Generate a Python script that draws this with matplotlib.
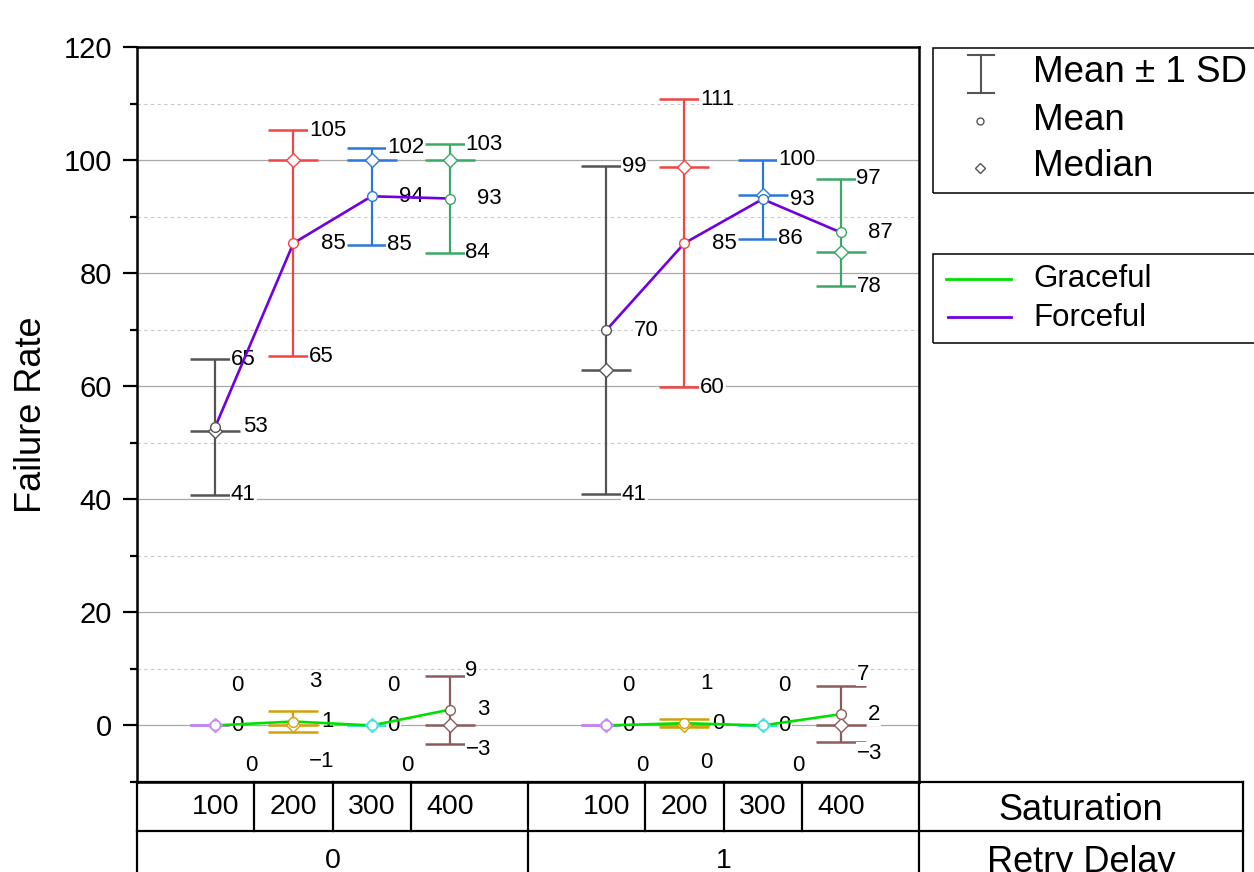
import numpy as np
import matplotlib
matplotlib.use("Agg")
import matplotlib.pyplot as plt
from matplotlib.lines import Line2D
from matplotlib.patches import Rectangle
from matplotlib.transforms import blended_transform_factory

plt.rcParams['font.family'] = ['Liberation Sans', 'DejaVu Sans']

# ---- data ----
saturation = [100, 200, 300, 400]
retry_delay = [0, 1]

forceful_mean = [[52.8, 85.3, 93.6, 93.2], [69.9, 85.3, 93.1, 87.2]]
forceful_sd = [[12.0, 20.0, 8.6, 9.6], [29.0, 25.5, 7.0, 9.5]]
forceful_median = [[52.0, 100.0, 100.0, 100.0], [62.8, 98.8, 93.8, 83.8]]

graceful_mean = [[0.0, 0.7, 0.0, 2.8], [0.0, 0.4, 0.0, 2.0]]
graceful_sd = [[0.0, 1.9, 0.0, 6.0], [0.0, 0.7, 0.0, 5.0]]
graceful_median = [[0.0, 0.0, 0.0, 0.0], [0.0, 0.0, 0.0, 0.0]]

forceful_colors = ['#545454', '#f24444', '#2a78dc', '#3aa866']
graceful_colors = ['#c387f0', '#d4a00a', '#3ee0e0', '#8a5c5c']
graceful_line = '#00e000'
forceful_line = '#7000e0'

W, H = 1254, 872
fig = plt.figure(figsize=(W / 100, H / 100), dpi=100)
ax = fig.add_axes([137 / W, 1 - 782 / H, 782 / W, 735 / H])


def fmt(v):
    return str(round(v)).replace('-', '\u2212')


def draw_series(mean, sd, median, colors, line_color):
    n = len(saturation)
    for g in range(len(retry_delay)):
        xs = np.arange(n) + 1 + g * (n + 1)
        m = np.array(mean[g])
        s = np.array(sd[g])
        md = np.array(median[g])
        for i, x in enumerate(xs):
            c = colors[i]
            ax.errorbar(x, m[i], yerr=s[i], fmt='none', ecolor=c,
                        elinewidth=1.6, capsize=18, capthick=1.8, zorder=3)
            ax.hlines(md[i], x - 0.32, x + 0.32, color=c, lw=1.8, zorder=3)
            # value labels: mean+sd, mean, mean-sd (pushed apart when sd is small)
            top_y = max(m[i] + s[i], m[i] + 7)
            bot_y = min(m[i] - s[i], m[i] - 7)
            dx_mean = 0.35 if s[i] > 0 else 0.2
            dx_bot = 0.2 if s[i] > 0 else 0.38
            for yy, lab, dx in [(top_y, m[i] + s[i], 0.2), (m[i], m[i], dx_mean),
                                (bot_y, m[i] - s[i], dx_bot)]:
                ax.text(x + dx, yy, fmt(lab), ha='left', va='center', fontsize=16,
                        zorder=4, bbox=dict(fc='white', ec='none', pad=0.6))
        ax.plot(xs, m, color=line_color, lw=1.9, zorder=5)
        for i, x in enumerate(xs):
            ax.plot(x, md[i], marker='D', ms=7.5, mfc='white', mec=colors[i], mew=1, zorder=6)
            ax.plot(x, m[i], marker='o', ms=7, mfc='white', mec=colors[i], mew=1, zorder=6)


draw_series(forceful_mean, forceful_sd, forceful_median, forceful_colors, forceful_line)
draw_series(graceful_mean, graceful_sd, graceful_median, graceful_colors, graceful_line)

ax.set_xlim(0, 10)
ax.set_ylim(-10, 120)
ax.set_yticks(np.arange(0, 121, 20))
ax.set_yticks(np.arange(-10, 121, 10), minor=True)
ax.set_xticks([])
ax.tick_params(axis='y', which='major', direction='out', length=10, width=1.6, labelsize=21, pad=8)
ax.tick_params(axis='y', which='minor', direction='out', length=5, width=1.6)
ax.grid(axis='y', which='major', color='#a8a8a8', lw=0.9, zorder=0)
ax.grid(axis='y', which='minor', color='#c8c8c8', lw=0.8, ls=(0, (3, 3)), zorder=0)
ax.set_axisbelow(True)
for sp in ax.spines.values():
    sp.set_linewidth(1.8)
ax.set_ylabel('Failure Rate', fontsize=26)
ax.yaxis.set_label_coords(-0.113, 0.5)

# ---- category table under the axis ----
tr = blended_transform_factory(ax.transData, ax.transAxes)
row1, row2 = -0.0667, -0.17
x_right = 14.14
tkw = dict(transform=tr, color='black', lw=1.6, clip_on=False)
ax.add_line(Line2D([0, x_right], [0, 0], **tkw))
ax.add_line(Line2D([0, x_right], [row1, row1], **tkw))
for xv in [0, 5, 10, x_right]:
    ax.add_line(Line2D([xv, xv], [0, row2], **tkw))
n = len(saturation)
for g in range(len(retry_delay)):
    xs = np.arange(n) + 1 + g * (n + 1)
    for e in (xs[:-1] + xs[1:]) / 2:
        ax.add_line(Line2D([e, e], [0, row1], **tkw))
    for x, lab in zip(xs, saturation):
        ax.text(x, row1 / 2, str(lab), transform=tr, ha='center', va='center', fontsize=20.5)
    ax.text(xs.mean(), -0.107, str(retry_delay[g]), transform=tr, ha='center', va='center', fontsize=20.5)
ax.text((10 + x_right) / 2, row1 / 2 - 0.006, 'Saturation', transform=tr, ha='center', va='center', fontsize=26)
ax.text((10 + x_right) / 2, -0.11, 'Retry Delay', transform=tr, ha='center', va='center', fontsize=26)


# ---- legends drawn in figure pixels ----
def P(x, y):
    return x / W, 1 - y / H


def box(x0, y0, x1, y1):
    (a, b), (c, d) = P(x0, y1), P(x1, y0)
    fig.add_artist(Rectangle((a, b), c - a, d - b, transform=fig.transFigure,
                             fill=False, ec='black', lw=1.1))


def seg(x0, y0, x1, y1, color, lw):
    (a, b), (c, d) = P(x0, y0), P(x1, y1)
    fig.add_artist(Line2D([a, c], [b, d], transform=fig.transFigure, color=color, lw=lw))


box(933, 48, 1300, 193)
seg(981, 55, 981, 93, '#555555', 1.5)
seg(968, 55, 994, 55, '#555555', 1.5)
seg(968, 93, 994, 93, '#555555', 1.5)
fig.add_artist(Line2D([P(980, 121)[0]], [P(980, 121)[1]], transform=fig.transFigure,
                      marker='o', ms=5, mfc='white', mec='#555555', mew=1))
fig.add_artist(Line2D([P(980, 168)[0]], [P(980, 168)[1]], transform=fig.transFigure,
                      marker='D', ms=5.5, mfc='white', mec='#555555', mew=1))
for yy, lab in [(73, 'Mean \u00b1 1 SD'), (121, 'Mean'), (167, 'Median')]:
    fig.text(*P(1033, yy), lab, ha='left', va='center', fontsize=26.5)

box(933, 254, 1300, 343)
seg(946, 279, 1011, 279, graceful_line, 2)
seg(948, 317, 1011, 317, forceful_line, 2)
fig.text(*P(1033, 279), 'Graceful', ha='left', va='center', fontsize=22.5)
fig.text(*P(1033, 318), 'Forceful', ha='left', va='center', fontsize=22.5)

fig.savefig('out.png', dpi=100)
